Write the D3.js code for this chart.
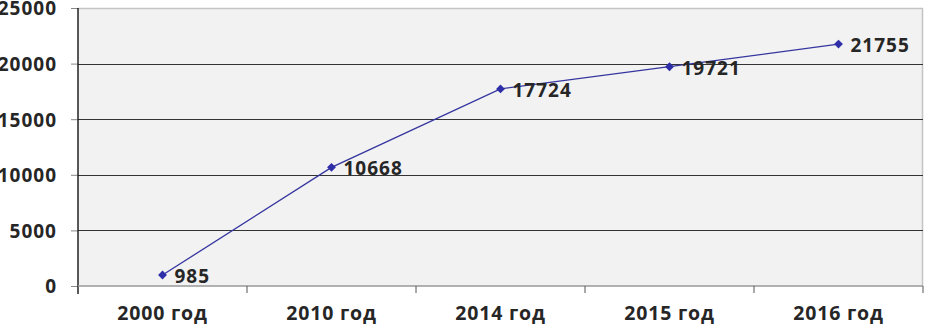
<!DOCTYPE html>
<html>
<head>
<meta charset="utf-8">
<script src="https://cdn.jsdelivr.net/npm/d3@7"></script>
<style>
  body { margin: 0; background: #fff; }
  text { font-family: "Open Sans", sans-serif; font-weight: bold; fill: #262626; }
</style>
</head>
<body>
<div id="chart"></div>
<script>
const years = ["2000 год", "2010 год", "2014 год", "2015 год", "2016 год"]
const values = [985, 10668, 17724, 19721, 21755]
const yTicks = [0, 5000, 10000, 15000, 20000, 25000]

const margin = { top: 8, right: 4, bottom: 44, left: 78 }
const width = 927 - margin.left - margin.right
const height = 330 - margin.top - margin.bottom

const svg = d3.select("#chart")
    .append("svg")
    .attr("width", 927)
    .attr("height", 330)
    .append("g")
    .attr("transform", `translate(${margin.left},${margin.top})`)

const x = d3.scaleBand().domain(years).range([0, width])
const y = d3.scaleLinear().domain([0, 25000]).range([height, 0])

// plot background and border
svg.append("rect")
    .attr("width", width)
    .attr("height", height)
    .attr("fill", "#f2f2f2")
svg.append("path")
    .attr("d", `M0,0.5H${width - 0.5}V${height}`)
    .attr("fill", "none")
    .attr("stroke", "#c4c4c4")
    .attr("stroke-width", 1.5)

// horizontal gridlines
svg.selectAll(".grid")
    .data(yTicks.slice(1, -1))
    .join("line")
    .attr("x1", 0)
    .attr("x2", width)
    .attr("y1", d => Math.round(y(d)) + 0.5)
    .attr("y2", d => Math.round(y(d)) + 0.5)
    .attr("stroke", "#333")
    .attr("stroke-width", 1)

// y axis
const yAxis = svg.append("g")
    .call(d3.axisLeft(y).tickValues(yTicks).tickFormat(d3.format("d")).tickSize(7).tickPadding(14))
yAxis.select(".domain").remove()
yAxis.selectAll(".tick line").attr("stroke", "#888")
yAxis.selectAll(".tick text")
    .style("font-size", "19px")
    .style("letter-spacing", "1px")
    .attr("dy", "0.36em")
yAxis.append("line")
    .attr("x1", 0).attr("x2", 0)
    .attr("y1", 0).attr("y2", height + 8)
    .attr("stroke", "#222")
    .attr("stroke-width", 1.5)

// x axis
const xAxis = svg.append("g")
    .attr("transform", `translate(0,${height})`)
xAxis.append("line")
    .attr("x1", 0).attr("x2", width)
    .attr("stroke", "#999")
    .attr("stroke-width", 1.5)
xAxis.selectAll(".xtick")
    .data(years.slice(1).concat(["end"]))
    .join("line")
    .attr("x1", (d, i) => x.step() * (i + 1))
    .attr("x2", (d, i) => x.step() * (i + 1))
    .attr("y1", 0)
    .attr("y2", 7)
    .attr("stroke", "#555")
xAxis.selectAll(".xlabel")
    .data(years)
    .join("text")
    .attr("x", d => x(d) + x.bandwidth() / 2)
    .attr("y", 34)
    .attr("text-anchor", "middle")
    .style("font-size", "19.5px")
    .style("letter-spacing", "0.8px")
    .text(d => d)

// line
const line = d3.line()
    .x((d, i) => x(years[i]) + x.bandwidth() / 2)
    .y(d => y(d))

svg.append("path")
    .datum(values)
    .attr("fill", "none")
    .attr("stroke", "#3535a0")
    .attr("stroke-width", 1.3)
    .attr("d", line)

// diamond markers
svg.selectAll(".marker")
    .data(values)
    .join("path")
    .attr("d", d3.symbol(d3.symbolDiamond2, 50))
    .attr("transform", (d, i) => `translate(${x(years[i]) + x.bandwidth() / 2},${y(d)})`)
    .attr("fill", "#2e2ea8")

// value labels
svg.selectAll(".value")
    .data(values)
    .join("text")
    .attr("x", (d, i) => x(years[i]) + x.bandwidth() / 2 + 12)
    .attr("y", d => y(d) + 1)
    .attr("dy", "0.36em")
    .style("font-size", "19px")
    .style("letter-spacing", "1px")
    .text(d => d)
</script>
</body>
</html>
